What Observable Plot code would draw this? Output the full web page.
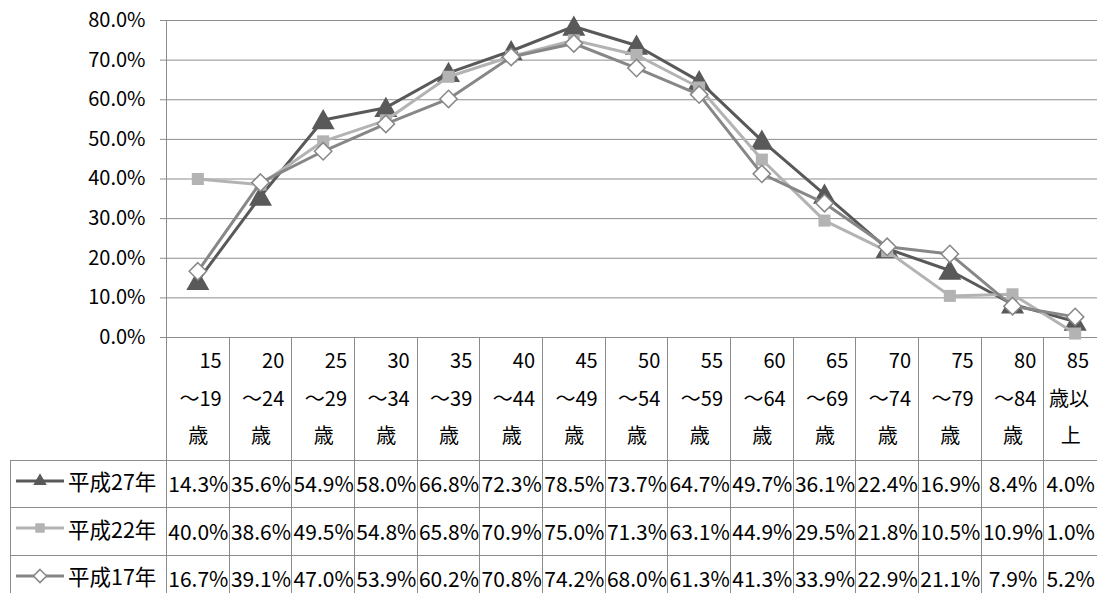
<!DOCTYPE html>
<html>
<head>
<meta charset="utf-8">
<script src="https://cdn.jsdelivr.net/npm/d3@7"></script>
<script src="https://cdn.jsdelivr.net/npm/@observablehq/plot@0.6"></script>
<style>
  html, body { margin: 0; padding: 0; background: #fff; }
  body {
    width: 1097px; height: 593px; overflow: hidden; position: relative;
    font-family: "Liberation Sans Narrow", "Noto Sans CJK JP", sans-serif; color: #000;
  }
  #page { position: absolute; left: 0; top: 0; width: 1200px; height: 593px; }
  #chart { position: absolute; left: 0; top: 0; }
  .cell {
    position: absolute; box-sizing: border-box; overflow: hidden; white-space: nowrap;
    border-left: 1px solid #8c8c8c; border-bottom: 1px solid #8c8c8c; color: #000;
  }
  .cell.head { font-size: 20px; }
  .cell.head div { line-height: 37.5px; height: 37.5px; }
  .cell.head div.top { margin-top: 4px; }
  .cell.head .r { text-align: right; padding-right: 8px; }
  .cell.head .c { text-align: center; }
  .cell.val {
    font-size: 21px; display: flex; align-items: center; justify-content: center;
    padding-bottom: 1px;
  }
  .cell.key {
    font-size: 21.5px; display: flex; align-items: center; padding-bottom: 6px;
  }
  .cell.key.first { border-top: 1px solid #8c8c8c; }
  .cell.key svg { margin-left: 4px; margin-right: 3px; }
</style>
</head>
<body>
<div id="page"><div id="chart"></div></div>
<script>
// Age bands, split into the three lines shown under the axis
const ageStart = ["15","20","25","30","35","40","45","50","55","60","65","70","75","80","85"];
const ageEnd   = ["～19","～24","～29","～34","～39","～44","～49","～54","～59","～64","～69","～74","～79","～84","歳以"];
const ageTail  = ["歳","歳","歳","歳","歳","歳","歳","歳","歳","歳","歳","歳","歳","歳","上"];

// Rates (%) by survey year
const seriesNames = ["平成27年", "平成22年", "平成17年"];
const rateH27 = [14.3, 35.6, 54.9, 58.0, 66.8, 72.3, 78.5, 73.7, 64.7, 49.7, 36.1, 22.4, 16.9, 8.4, 4.0];
const rateH22 = [40.0, 38.6, 49.5, 54.8, 65.8, 70.9, 75.0, 71.3, 63.1, 44.9, 29.5, 21.8, 10.5, 10.9, 1.0];
const rateH17 = [16.7, 39.1, 47.0, 53.9, 60.2, 70.8, 74.2, 68.0, 61.3, 41.3, 33.9, 22.9, 21.1, 7.9, 5.2];

const yTicks = [0, 10, 20, 30, 40, 50, 60, 70, 80];

const categories = ageStart.map((s, i) => s + ageEnd[i] + ageTail[i]);
const seriesValues = [rateH27, rateH22, rateH17];
const pct = v => v.toFixed(1) + "%";

// Custom marker shapes in the style of spreadsheet charts
const triangleSym = {
  draw(ctx, size) {
    const r = Math.sqrt(size / Math.PI);
    ctx.moveTo(0, -1.2 * r);
    ctx.lineTo(1.25 * r, 1.0 * r);
    ctx.lineTo(-1.25 * r, 1.0 * r);
    ctx.closePath();
  }
};
const seriesStyle = [
  { stroke: "#595959", symbol: triangleSym, r: 9.2, fill: "#595959", markStroke: "none", keyType: d3.symbolTriangle, keySize: 80 },
  { stroke: "#b3b3b3", symbol: "square",     r: 6.8, fill: "#b3b3b3", markStroke: "none", keyType: d3.symbolSquare,   keySize: 90 },
  { stroke: "#878787", symbol: "diamond2",   r: 7.8, fill: "#ffffff", markStroke: "#878787", keyType: d3.symbolDiamond2, keySize: 110 }
];

const rows = seriesNames.flatMap((name, k) =>
  categories.map((age, i) => ({ series: name, age, value: seriesValues[k][i] }))
);

const W = 1106;      // plot extends a little past the page's right edge
const pageW = 1097;  // visible width
const marks = [
  Plot.gridY(yTicks, { stroke: "#8c8c8c", strokeOpacity: 1, strokeWidth: 1 }),
  Plot.axisY(yTicks, {
    tickFormat: pct, tickSize: 6, tickPadding: 15,
    stroke: "#8c8c8c", fill: "#000", fontSize: 20, label: null
  }),
  Plot.frame({ anchor: "left", stroke: "#8c8c8c" })
];
seriesNames.forEach((name, k) => {
  const s = seriesStyle[k];
  const d = rows.filter(r => r.series === name);
  marks.push(Plot.line(d, { x: "age", y: "value", stroke: s.stroke, strokeWidth: 3 }));
  marks.push(Plot.dot(d, {
    x: "age", y: "value", symbol: s.symbol, r: s.r,
    fill: s.fill, stroke: s.markStroke, strokeWidth: 1.5
  }));
});

const chart = Plot.plot({
  width: W,
  height: 338,
  marginLeft: 166,
  marginRight: 0,
  marginTop: 20,
  marginBottom: 1,
  x: { type: "point", domain: categories, padding: 0.5, round: false, axis: null },
  y: { domain: [0, 80], axis: null },
  style: {
    fontFamily: '"Liberation Sans Narrow", "Noto Sans CJK JP", sans-serif',
    fontSize: "20px", color: "#000", background: "transparent", overflow: "visible"
  },
  marks
});
document.getElementById("chart").appendChild(chart);

// Data table under the plot, its columns following the x scale's step
const xs = chart.scale("x");
const step = xs.apply(categories[1]) - xs.apply(categories[0]);
const left0 = xs.apply(categories[0]) - step / 2;
const y0 = Math.round(chart.scale("y").apply(0));
const headH = 122.5, rowH = 47.7, keyLeft = 10;
const page = d3.select("#page");

function cell(cls, x, y, w, h) {
  return page.append("div").attr("class", "cell " + cls)
    .style("left", x + "px").style("top", y + "px")
    .style("width", w + "px").style("height", h + "px");
}
// column cells stop at the visible edge so their text stays in view
const colX = i => left0 + i * step;
const colW = i => Math.min(step + 1, pageW - colX(i));

// Header: age band labels
categories.forEach((c, i) => {
  const d = cell("head", colX(i), y0, colW(i), headH + 1);
  d.append("div").attr("class", "top r").text(ageStart[i]);
  d.append("div").attr("class", "r").text(ageEnd[i]);
  d.append("div").attr("class", "c").text(ageTail[i]);
});

// Rows: legend key + values
seriesNames.forEach((name, k) => {
  const s = seriesStyle[k];
  const top = y0 + headH + k * rowH;
  const key = cell("key" + (k === 0 ? " first" : ""), keyLeft, top, left0 - keyLeft + 1, rowH + 1);
  const svg = key.append("svg").attr("width", 50).attr("height", 20);
  svg.append("line").attr("x1", 1).attr("x2", 49).attr("y1", 10).attr("y2", 10)
    .attr("stroke", s.stroke).attr("stroke-width", 3);
  svg.append("path").attr("transform", "translate(25,10)")
    .attr("d", d3.symbol(s.keyType, s.keySize)())
    .attr("fill", s.fill).attr("stroke", s.markStroke).attr("stroke-width", 1.5);
  key.append("span").text(name);
  seriesValues[k].forEach((v, i) => {
    cell("val", colX(i), top, colW(i), rowH + 1).text(pct(v));
  });
});
</script>
</body>
</html>
